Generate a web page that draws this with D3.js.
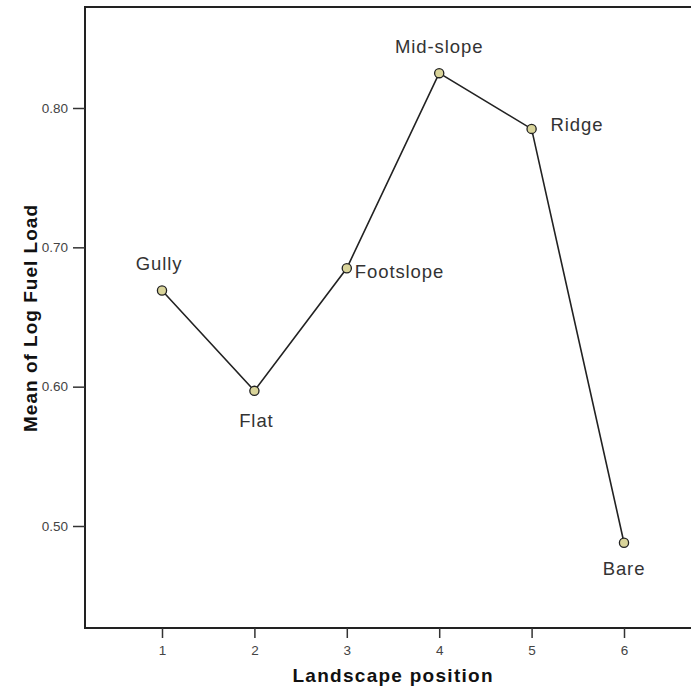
<!DOCTYPE html>
<html><head><meta charset="utf-8">
<script src="https://cdn.jsdelivr.net/npm/d3@7"></script>
<style>body{margin:0;background:#fff}</style>
</head><body>
<script>
const positions = [1, 2, 3, 4, 5, 6];
const names = ["Gully", "Flat", "Footslope", "Mid-slope", "Ridge", "Bare"];
const means = [0.669, 0.597, 0.685, 0.825, 0.785, 0.488];
const yTicks = [0.50, 0.60, 0.70, 0.80];
// label offsets relative to each point: [dx, dy, anchor]
const labelOffsets = [[-3, -21, "middle"], [2, 36, "middle"], [8, 10, "start"], [0, -20, "middle"], [19, 2, "start"], [0, 32, "middle"]];

const W = 691, H = 688;
const svg = d3.select("body").append("svg").attr("width", W).attr("height", H);
const x = d3.scaleLinear().domain([1, 6]).range([162, 624]);
const y = d3.scaleLinear().domain([0.80, 0.50]).range([108, 526]);
const mLeft = 85, mTop = 7, mBottom = 628, mRight = 700;
const font = "Liberation Sans, Arial, sans-serif";

svg.append("rect").attr("x", mLeft).attr("y", mTop).attr("width", mRight - mLeft).attr("height", mBottom - mTop)
  .attr("fill", "none").attr("stroke", "#222").attr("stroke-width", 2);

const xa = svg.append("g").attr("transform", `translate(0,${mBottom})`)
  .call(d3.axisBottom(x).tickValues(positions).tickFormat(d3.format("d")).tickSize(10).tickPadding(7));
xa.select(".domain").remove();
xa.selectAll("line").attr("stroke", "#333").attr("stroke-width", 1.5);
xa.selectAll("text").attr("font-family", font).attr("font-size", 13.5).attr("fill", "#444");

const ya = svg.append("g").attr("transform", `translate(${mLeft},0)`)
  .call(d3.axisLeft(y).tickValues(yTicks).tickFormat(d3.format(".2f")).tickSize(12).tickPadding(5));
ya.select(".domain").remove();
ya.selectAll("line").attr("stroke", "#333").attr("stroke-width", 1.5);
ya.selectAll("text").attr("font-family", font).attr("font-size", 13.5).attr("fill", "#444");

const line = d3.line().x((d, i) => x(positions[i])).y(d => y(d));
svg.append("path").datum(means).attr("d", line).attr("fill", "none").attr("stroke", "#222").attr("stroke-width", 1.6);

svg.selectAll("circle.pt").data(means).join("circle").attr("class", "pt")
  .attr("cx", (d, i) => x(positions[i])).attr("cy", d => y(d)).attr("r", 4.6)
  .attr("fill", "#d9d49a").attr("stroke", "#222").attr("stroke-width", 1.3);

svg.selectAll("text.lbl").data(means).join("text").attr("class", "lbl")
  .attr("x", (d, i) => x(positions[i]) + labelOffsets[i][0])
  .attr("y", (d, i) => y(d) + labelOffsets[i][1])
  .attr("text-anchor", (d, i) => labelOffsets[i][2])
  .attr("font-family", font).attr("font-size", 18.5).attr("letter-spacing", 0.9).attr("fill", "#333")
  .text((d, i) => names[i]);

svg.append("text").attr("x", 392.5).attr("y", 682).attr("text-anchor", "middle")
  .attr("font-family", font).attr("font-weight", "bold").attr("font-size", 19).attr("fill", "#111")
  .attr("textLength", 200).attr("lengthAdjust", "spacing")
  .text("Landscape position");
svg.append("text").attr("transform", "translate(37,318.5) rotate(-90)").attr("text-anchor", "middle")
  .attr("font-family", font).attr("font-weight", "bold").attr("font-size", 19).attr("fill", "#111")
  .attr("textLength", 227).attr("lengthAdjust", "spacing")
  .text("Mean of Log Fuel Load");
</script>
</body></html>
